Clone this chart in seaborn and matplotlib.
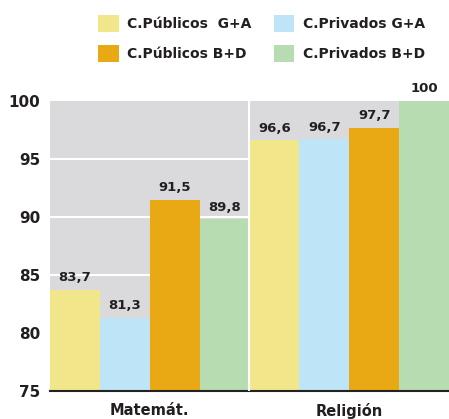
import matplotlib
matplotlib.use("Agg")
import matplotlib.pyplot as plt
import seaborn as sns
import pandas as pd

# data
subjects = ['Matemát.', 'Religión']
series = ['C.Públicos  G+A', 'C.Privados G+A', 'C.Públicos B+D', 'C.Privados B+D']
publicos_ga = [83.7, 96.6]
privados_ga = [81.3, 96.7]
publicos_bd = [91.5, 97.7]
privados_bd = [89.8, 100]
colors = ['#f1e78a', '#bde4f7', '#e8a914', '#b7dcb2']

rows = []
for name, vals in zip(series, [publicos_ga, privados_ga, publicos_bd, privados_bd]):
    for subj, v in zip(subjects, vals):
        rows.append({'Asignatura': subj, 'Serie': name, 'Valor': v})
df = pd.DataFrame(rows)

sns.set_theme(style='white')
plt.rcParams['font.family'] = ['DejaVu Sans']
txt = '#231f20'

fig = plt.figure(figsize=(4.49, 4.19), dpi=100)
ax = fig.add_axes([0.111, 0.067, 0.889, 0.692])
ax.set_facecolor('#dadadc')

sns.barplot(data=df, x='Asignatura', y='Valor', hue='Serie', order=subjects,
            hue_order=series, palette=colors, width=1.0, gap=0,
            saturation=1, edgecolor='none', linewidth=0, ax=ax, zorder=2)

ax.set_ylim(75, 100)
ax.set_xlim(-0.5, 1.5)
ax.set_yticks([75, 80, 85, 90, 95, 100])
ax.set_yticklabels(['75', '80', '85', '90', '95', '100'], fontweight='bold',
                   fontsize=11, color=txt)
for y in [80, 85, 90, 95]:
    ax.axhline(y, color='white', lw=1.5, zorder=1)
ax.axvline(0.5, color='white', lw=1.5, zorder=3)

# value labels with comma decimals
for cont in ax.containers:
    labels = [f'{b.get_height():.1f}'.replace('.', ',').replace(',0', '') for b in cont]
    ax.bar_label(cont, labels=labels, padding=4, fontsize=9.5, fontweight='bold',
                 color=txt, clip_on=False)

ax.set_xticks([0, 1])
ax.set_xticklabels(subjects, fontweight='bold', fontsize=10.5, color=txt)
ax.set_xticks([-0.5, 0.5], minor=True)
ax.tick_params(axis='x', which='major', length=0, pad=9)
ax.tick_params(axis='x', which='minor', length=4, width=1.2, color='#222222', direction='out')
ax.tick_params(axis='y', length=0, pad=7)
ax.set_xlabel('')
ax.set_ylabel('')
for s in ['top', 'right', 'left']:
    ax.spines[s].set_visible(False)
ax.spines['bottom'].set_color('#222222')
ax.spines['bottom'].set_linewidth(1.5)

handles, labs = ax.get_legend_handles_labels()
ax.legend_.remove()
order = [0, 2, 1, 3]
fig.legend([handles[i] for i in order], [labs[i] for i in order], ncol=2,
           loc='upper left', bbox_to_anchor=(0.19, 0.995),
           frameon=False, handlelength=1.5, handleheight=1.5, columnspacing=1.6,
           handletextpad=0.6, labelspacing=0.95,
           prop={'weight': 'bold', 'size': 10}, labelcolor=txt)

fig.savefig('out.png', dpi=100)
